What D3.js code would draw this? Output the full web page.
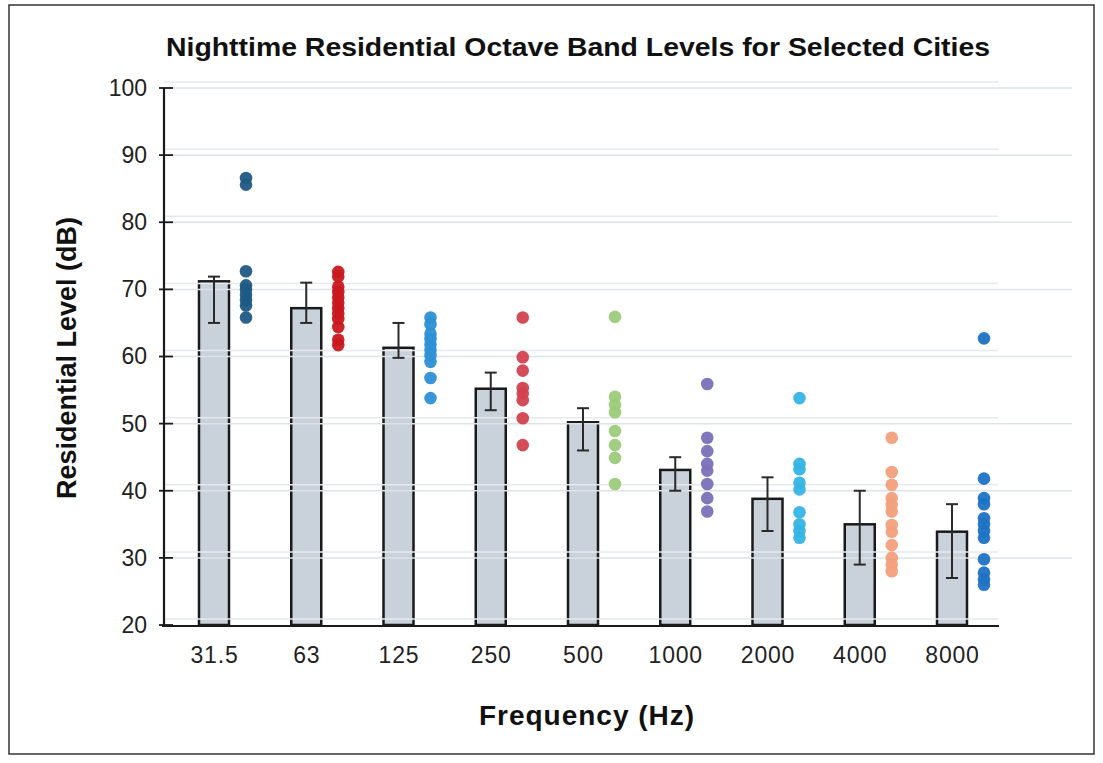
<!DOCTYPE html>
<html><head><meta charset="utf-8">
<script src="https://cdn.jsdelivr.net/npm/d3@7"></script>
<style>body{margin:0;background:#fff}svg{display:block}text{font-family:"Liberation Sans",Arial,sans-serif}</style>
</head><body><svg id="c" width="1103" height="763"></svg>
<script>
const categories = ["31.5","63","125","250","500","1000","2000","4000","8000"];
const means = [71.2, 67.2, 61.3, 55.2, 50.2, 43.1, 38.8, 35.0, 33.9];
const errHigh = [71.9, 71.0, 65.0, 57.6, 52.3, 45.0, 42.0, 40.0, 38.0];
const errLow = [65.0, 65.0, 59.8, 52.0, 46.0, 40.0, 34.0, 29.0, 27.0];
const cityValues = [
  [86.6, 85.6, 72.7, 70.6, 70.0, 69.2, 68.4, 67.6, 65.8],
  [72.6, 71.9, 70.4, 69.6, 68.8, 68.0, 67.2, 66.4, 65.6, 64.4, 62.5, 61.7],
  [65.8, 64.8, 63.4, 62.6, 61.8, 61.0, 60.2, 59.2, 56.8, 53.8],
  [65.8, 59.9, 57.9, 55.3, 54.5, 53.5, 50.8, 46.8],
  [65.9, 54.0, 52.8, 51.7, 48.9, 46.8, 44.9, 41.0],
  [55.9, 47.9, 45.9, 44.0, 43.0, 41.0, 38.9, 36.9],
  [53.8, 44.0, 43.2, 41.2, 40.2, 36.8, 35.0, 34.0, 33.0],
  [47.9, 42.8, 40.9, 38.9, 37.9, 36.9, 34.9, 33.9, 31.9, 30.0, 29.0, 28.0],
  [62.7, 41.8, 38.9, 38.0, 35.9, 35.0, 34.0, 33.0, 29.8, 27.8, 26.8, 26.0]
];
const dotColors = ["#1f5a85","#c8181e","#2d8fd5","#d2424f","#9ccb79","#7a70b8","#36b4e4","#f2a07c","#1c72c4"];
const yTicks = [20,30,40,50,60,70,80,90,100];
const title = "Nighttime Residential Octave Band Levels for Selected Cities";
const xTitle = "Frequency (Hz)";
const yTitle = "Residential Level (dB)";

const svg = d3.select("#c");
svg.append("rect").attr("x",9).attr("y",5).attr("width",1085).attr("height",749)
  .attr("fill","none").attr("stroke","#333").attr("stroke-width",1.5);

const y = d3.scaleLinear().domain([20,100]).range([625,88]);
const x = d3.scalePoint().domain(categories).range([214,952]);
const barW = 30, dotOff = 32;

const grid = svg.append("g");
const bars = svg.append("g");
bars.selectAll("rect").data(categories).join("rect")
  .attr("x", d => x(d) - barW/2)
  .attr("y", (d,i) => y(means[i]))
  .attr("width", barW)
  .attr("height", (d,i) => y(20) - y(means[i]))
  .attr("fill","#c9d1db").attr("stroke","#1a1a1a").attr("stroke-width",2.5);

grid.raise();
grid.selectAll("line.a").data(yTicks.slice(1)).join("line").attr("class","a")
  .attr("x1",164).attr("x2",1072).attr("y1",d=>y(d)).attr("y2",d=>y(d))
  .attr("stroke","#dde3e8").attr("stroke-width",1.5);
grid.selectAll("line.b").data(yTicks).join("line").attr("class","b")
  .attr("x1",164).attr("x2",998).attr("y1",d=>y(d)-6).attr("y2",d=>y(d)-6)
  .attr("stroke","#e6eaee").attr("stroke-width",1.5);

const eb = svg.append("g").attr("stroke","#2a2a2a").attr("stroke-width",2);
categories.forEach((c,i) => {
  eb.append("line").attr("x1",x(c)).attr("x2",x(c)).attr("y1",y(errHigh[i])).attr("y2",y(errLow[i]));
  eb.append("line").attr("x1",x(c)-6).attr("x2",x(c)+6).attr("y1",y(errHigh[i])).attr("y2",y(errHigh[i]));
  eb.append("line").attr("x1",x(c)-6).attr("x2",x(c)+6).attr("y1",y(errLow[i])).attr("y2",y(errLow[i]));
});

categories.forEach((c,i) => {
  svg.append("g").selectAll("circle").data(cityValues[i]).join("circle")
    .attr("cx", x(c) + dotOff).attr("cy", d => y(d)).attr("r", 6.3)
    .attr("fill", dotColors[i]).attr("fill-opacity",0.95);
});

const yAxis = svg.append("g").attr("transform","translate(164,0)")
  .call(d3.axisLeft(y).tickValues(yTicks).tickSize(0).tickPadding(17).tickFormat(d3.format("d")));
yAxis.select(".domain").remove();
yAxis.selectAll("text").attr("font-size",23).attr("fill","#222");
svg.append("line").attr("x1",164).attr("x2",164).attr("y1",88).attr("y2",627).attr("stroke","#1a1a1a").attr("stroke-width",2.2);
svg.selectAll("line.yt").data(yTicks).join("line").attr("class","yt")
  .attr("x1",159).attr("x2",173).attr("y1",d=>y(d)).attr("y2",d=>y(d))
  .attr("stroke","#1a1a1a").attr("stroke-width",1.8);

const xAxis = svg.append("g").attr("transform","translate(0,626)")
  .call(d3.axisBottom(x).tickSize(0).tickPadding(21));
xAxis.select(".domain").remove();
xAxis.selectAll("text").attr("font-size",23).attr("fill","#222").attr("letter-spacing","0.8px");
svg.append("line").attr("x1",162).attr("x2",999).attr("y1",626).attr("y2",626).attr("stroke","#1a1a1a").attr("stroke-width",2.2);

svg.append("text").attr("x",578).attr("y",56).attr("text-anchor","middle")
  .attr("font-size",26).attr("font-weight","bold").attr("fill","#111")
  .attr("textLength",824).attr("lengthAdjust","spacingAndGlyphs").text(title);
svg.append("text").attr("x",587).attr("y",725).attr("text-anchor","middle")
  .attr("font-size",28).attr("font-weight","bold").attr("fill","#111").attr("letter-spacing","1px").text(xTitle);
svg.append("text").attr("transform","translate(76,358) rotate(-90)").attr("text-anchor","middle")
  .attr("font-size",27).attr("font-weight","bold").attr("fill","#111").text(yTitle);
</script></body></html>
